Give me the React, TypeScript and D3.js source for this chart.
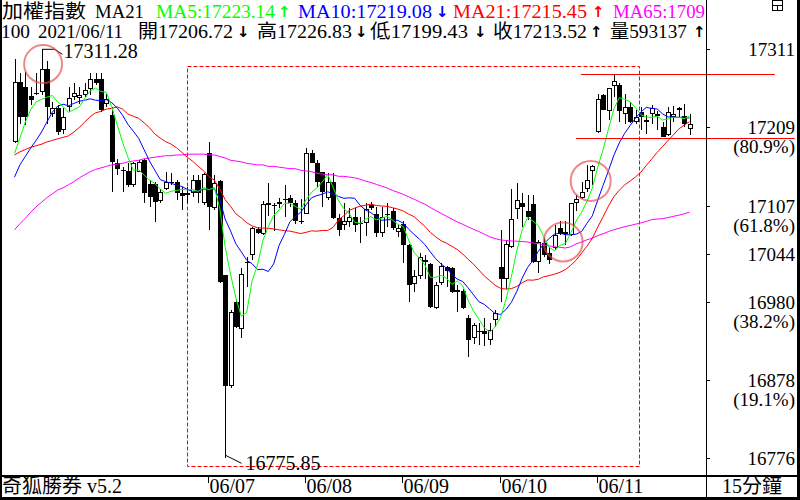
import * as d3 from "d3";
import React from "react";

// 15-minute bars, 06/03 .. 06/11 (18 bars per session)
const opens = [17190, 17269, 17262, 17250, 17254, 17256, 17285, 17227, 17234, 17205, 17236, 17249, 17248, 17251, 17259, 17272, 17272, 17240, 17225, 17163, 17153, 17152, 17133, 17151, 17167, 17135, 17135, 17113, 17128, 17138, 17138, 17123, 17123, 17123, 17140, 17110, 17176, 17103, 17139, 17016, 16870, 16981, 16945, 17033, 17042, 17076, 17069, 17110, 17107, 17109, 17115, 17116, 17110, 17086, 17096, 17175, 17163, 17150, 17116, 17138, 17091, 17081, 17085, 17092, 17084, 17084, 17107, 17096, 17071, 17096, 17099, 17072, 17083, 17055, 17004, 17014, 17036, 17030, 16972, 17005, 17026, 17025, 16993, 16995, 16960, 16933, 16942, 16942, 16931, 16957, 17026, 17011, 17052, 17102, 17110, 17100, 17109, 17033, 17058, 17045, 17051, 17077, 17072, 17068, 17110, 17117, 17129, 17152, 17203, 17251, 17231, 17263, 17264, 17227, 17236, 17216, 17229, 17219, 17227, 17226, 17210, 17199, 17223, 17232, 17224, 17206.72];
const highs = [17299, 17280, 17282, 17262, 17280, 17311.28, 17296, 17242, 17238, 17234, 17262, 17267, 17262, 17267, 17280, 17280, 17280, 17253, 17236, 17168, 17157, 17162, 17164, 17166, 17168, 17140, 17138, 17129, 17151, 17149, 17140, 17131, 17131, 17147, 17147, 17149, 17190, 17147, 17140, 17016, 16970, 16985, 17025, 17039, 17078, 17079, 17113, 17136, 17110, 17117, 17133, 17120, 17114, 17115, 17182, 17180, 17166, 17150, 17149, 17149, 17096, 17110, 17103, 17103, 17092, 17110, 17112, 17105, 17105, 17110, 17103, 17081, 17086, 17057, 17022, 17044, 17042, 17031, 17007, 17031, 17028, 17026, 17003, 16998, 16963, 16953, 16953, 16959, 16953, 16970, 17075, 17062, 17129, 17136, 17123, 17120, 17120, 17062, 17066, 17053, 17081, 17086, 17086, 17110, 17120, 17138, 17160, 17160, 17253, 17253, 17261, 17277, 17267, 17253, 17242, 17232, 17236, 17225, 17238, 17231, 17216, 17236, 17237, 17236, 17240, 17226.83];
const lows = [17188, 17214, 17212, 17238, 17251, 17251, 17214, 17223, 17199, 17201, 17229, 17245, 17240, 17249, 17251, 17264, 17229, 17236, 17125, 17147, 17125, 17131, 17131, 17150, 17110, 17105, 17085, 17110, 17127, 17133, 17114, 17101, 17110, 17118, 17110, 17107, 17075, 17101, 17005, 16775.85, 16868, 16946, 16933, 17000, 17036, 17070, 17068, 17093, 17074, 17104, 17092, 17105, 17083, 17083, 17096, 17162, 17131, 17105, 17114, 17089, 17067, 17075, 17079, 17072, 17058, 17067, 17101, 17065, 17066, 17079, 17075, 17066, 17031, 16981, 16993, 17011, 17011, 16972, 16971, 17003, 17000, 16992, 16968, 16971, 16909, 16926, 16924, 16923, 16924, 16948, 16980, 16997, 17051, 17089, 17079, 17088, 17032, 17018, 17040, 17030, 17048, 17068, 17055, 17067, 17100, 17115, 17125, 17134, 17202, 17232, 17219, 17249, 17216, 17214, 17215, 17214, 17206, 17200, 17214, 17205, 17196, 17198, 17216, 17221, 17210, 17199.43];
const closes = [17269, 17222, 17223, 17245, 17253, 17286, 17236, 17234, 17203, 17223, 17248, 17254, 17251, 17258, 17272, 17267, 17232, 17246, 17164, 17155, 17152, 17133, 17162, 17164, 17123, 17118, 17111, 17125, 17137, 17136, 17123, 17119, 17121, 17140, 17123, 17148, 17105, 17136, 17006, 16870, 16968, 16948, 17017, 17031, 17077, 17071, 17109, 17107, 17106, 17112, 17114, 17110, 17086, 17087, 17175, 17163, 17138, 17125, 17137, 17090, 17075, 17086, 17092, 17081, 17083, 17102, 17103, 17071, 17092, 17095, 17077, 17077, 17055, 17003, 17014, 17040, 17033, 16974, 17003, 17027, 17021, 16993, 16996, 16972, 16931, 16950, 16941, 16939, 16944, 16966, 17010, 17056, 17089, 17114, 17105, 17092, 17033, 17059, 17042, 17035, 17068, 17069, 17070, 17110, 17115, 17125, 17140, 17158, 17246, 17232, 17260, 17270, 17231, 17236, 17216, 17222, 17223, 17216, 17234, 17224, 17197, 17229, 17227, 17235, 17214, 17213.52];

// moving-average values before a full window exists
const ma5Lead = [17175, 17195, 17216, 17232];
const ma10Lead = [17144, 17160, 17171, 17182, 17192, 17203, 17216, 17229, 17237];
const ma21Lead = [17173, 17177, 17180, 17183, 17185, 17187, 17190, 17192, 17194, 17196, 17198, 17203, 17209, 17216, 17223, 17228, 17230, 17233, 17234, 17236];
const ma65Lead = [17075, 17083, 17090, 17098, 17105, 17111, 17117, 17122, 17127, 17130, 17134, 17138, 17143, 17147, 17151, 17154, 17156, 17158, 17160, 17161, 17162, 17164, 17165, 17166, 17168, 17169, 17170, 17171, 17172, 17172, 17173, 17173, 17174, 17174, 17174, 17174, 17173, 17173, 17171, 17169, 17166, 17165, 17164, 17162, 17161, 17160, 17160, 17158, 17158, 17157, 17156, 17155, 17155, 17153, 17152, 17151, 17149, 17148, 17147, 17147, 17145, 17145, 17144, 17143];

const dayLabels = ["06/07", "06/08", "06/09", "06/10", "06/11"];
const dayStarts = [36, 54, 72, 90, 108];

const fibLevels = [1, 0.809, 0.618, 0.5, 0.382, 0.191, 0];
const fibPercentShown = [0.809, 0.618, 0.382, 0.191];

// drawn annotations (candle index / price units)
const focusBox = { from: 32, to: 115.6, top: 17290, bottom: 16766 };
const hLines = [
  { value: 17279, from: 104.9, to: 140.8 },
  { value: 17195, from: 104, to: 144.5 },
];
const marks = [
  { at: 5.3, value: 17292, r: 19 },
  { at: 106.7, value: 17139, r: 20 },
  { at: 101.6, value: 17059, r: 19.5 },
];

const FONT = "'Liberation Serif','Noto Sans CJK TC',serif";
const ARROW_FONT = "'DejaVu Sans',sans-serif";

function movingAvg(period: number, lead: number[]) {
  return closes.map((_, i) =>
    i < period - 1 ? lead[i] : (d3.mean(closes.slice(i - period + 1, i + 1)) as number)
  );
}

type HeadItem = { t: string; x: number; w: number; c?: string; arrow?: boolean };

function HeadLine({ items, baseline }: { items: HeadItem[]; baseline: number }) {
  return (
    <>
      {items.map((h, k) =>
        h.arrow ? (
          <text
            key={k}
            x={h.x}
            y={baseline - 1}
            fill={h.c || "#000"}
            fontSize={15}
            fontFamily={ARROW_FONT}
            fontWeight={700}
          >
            {h.t}
          </text>
        ) : (
          <text
            key={k}
            x={h.x}
            y={baseline}
            fill={h.c || "#000"}
            fontSize={19}
            textLength={h.w}
            lengthAdjust="spacingAndGlyphs"
          >
            {h.t}
          </text>
        )
      )}
    </>
  );
}

export default function App() {
  const W = 800;
  const H = 500;
  const axisX = 706;
  const footY = 476;

  const hi = d3.max(highs) as number;
  const lo = d3.min(lows) as number;
  const hiIdx = d3.maxIndex(highs);
  const loIdx = d3.minIndex(lows);

  const x = d3.scaleLinear().domain([0, closes.length - 1]).range([14.5, 689.5]);
  const y = d3.scaleLinear().domain([lo, hi]).range([458.3, 49.3]);
  const px = (v: number) => Math.round(v) + 0.5;

  const line = d3
    .line<number>()
    .x((d, i) => x(i))
    .y((d) => y(d));

  const mas = [
    { data: movingAvg(65, ma65Lead), color: "#ff00ff" },
    { data: movingAvg(21, ma21Lead), color: "#ff0000" },
    { data: movingAvg(10, ma10Lead), color: "#0000ff" },
    { data: movingAvg(5, ma5Lead), color: "#00ff00" },
  ];

  const head1: HeadItem[] = [
    { t: "加權指數", x: 2, w: 84 },
    { t: "MA21", x: 95, w: 49 },
    { t: "MA5:17223.14", x: 156, w: 119, c: "#00ff00" },
    { t: "↑", x: 278, w: 10, c: "#00ff00", arrow: true },
    { t: "MA10:17219.08", x: 298, w: 134, c: "#0000ff" },
    { t: "↓", x: 436, w: 10, c: "#0000ff", arrow: true },
    { t: "MA21:17215.45", x: 453, w: 134, c: "#ff0000" },
    { t: "↑", x: 592, w: 10, c: "#ff0000", arrow: true },
    { t: "MA65:1709", x: 613, w: 92, c: "#ff00ff" },
  ];
  const head2: HeadItem[] = [
    { t: "100", x: 1, w: 29 },
    { t: "2021/06/11", x: 38, w: 85 },
    { t: "開17206.72", x: 138, w: 95 },
    { t: "↓", x: 237, w: 10, arrow: true },
    { t: "高17226.83", x: 257, w: 95 },
    { t: "↓", x: 355, w: 10, arrow: true },
    { t: "低17199.43", x: 370, w: 98 },
    { t: "↓", x: 474, w: 10, arrow: true },
    { t: "收17213.52", x: 493, w: 94 },
    { t: "↑", x: 590, w: 10, arrow: true },
    { t: "量593137", x: 610, w: 77 },
    { t: "↑", x: 693, w: 10, arrow: true },
  ];

  const hx = px(x(hiIdx));
  const hy = y(hi);
  const lx = px(x(loIdx));
  const ly = y(lo);

  const bx0 = px(x(focusBox.from));
  const bx1 = px(x(focusBox.to));
  const by0 = px(y(focusBox.top));
  const by1 = px(y(focusBox.bottom));

  return (
    <svg width={W} height={H} style={{ display: "block", background: "#fff" }} fontFamily={FONT}>
      <style>{`body{margin:0}`}</style>
      <defs>
        <clipPath id="plotClip">
          <rect x={0} y={0} width={axisX} height={footY} />
        </clipPath>
      </defs>
      <rect width={W} height={H} fill="#fff" />

      {/* dashed focus box */}
      <path
        d={`M${bx0},${by0}H${bx1}V${by1}H${bx0}Z`}
        fill="none"
        stroke="#ff0000"
        strokeWidth={1}
        strokeDasharray="4,2"
      />

      {/* candles */}
      <g clipPath="url(#plotClip)" shapeRendering="crispEdges">
        {closes.map((c, i) => {
          const o = opens[i];
          const cx = Math.round(x(i));
          const top = y(Math.max(o, c));
          const bot = y(Math.min(o, c));
          const up = c >= o;
          const bh = bot - top;
          return (
            <g key={i}>
              <line x1={cx + 0.5} x2={cx + 0.5} y1={y(highs[i])} y2={y(lows[i])} stroke="#000" />
              {bh < 1.5 ? (
                <line x1={cx - 2} x2={cx + 3} y1={top + 0.5} y2={top + 0.5} stroke="#000" />
              ) : up ? (
                <rect x={cx - 1.5} y={top + 0.5} width={4} height={bh - 1} fill="#fff" stroke="#000" />
              ) : (
                <rect x={cx - 2} y={top} width={5} height={bh} fill="#000" />
              )}
            </g>
          );
        })}
      </g>

      {/* moving averages */}
      <g clipPath="url(#plotClip)">
        {mas.map((m, k) => (
          <path key={k} d={line(m.data) || ""} fill="none" stroke={m.color} strokeWidth={1} />
        ))}
      </g>

      {/* high / low labels */}
      <polyline points={`${hx},${hy} ${hx + 12},${hy} ${hx + 20},${hy + 5}`} fill="none" stroke="#000" />
      <text x={hx + 21} y={hy + 9} fontSize={20}>
        {hi.toFixed(2)}
      </text>
      <polyline points={`${lx},${ly - 3} ${lx + 16},${ly + 5}`} fill="none" stroke="#000" />
      <text x={lx + 20} y={ly + 12} fontSize={20}>
        {lo.toFixed(2)}
      </text>

      {/* red guide lines */}
      {hLines.map((l, k) => (
        <line
          key={k}
          x1={x(l.from)}
          x2={x(l.to)}
          y1={px(y(l.value))}
          y2={px(y(l.value))}
          stroke="#ff0000"
          strokeWidth={1.2}
        />
      ))}

      {/* circles */}
      {marks.map((m, k) => (
        <circle key={k} cx={x(m.at)} cy={y(m.value)} r={m.r} fill="none" stroke="rgba(232,70,70,0.65)" strokeWidth={2} />
      ))}

      {/* header */}
      <g clipPath="url(#plotClip)">
        <HeadLine items={head1} baseline={18} />
        <HeadLine items={head2} baseline={38} />
      </g>

      {/* right axis */}
      <g fontSize={19} textAnchor="end">
        {fibLevels.map((f, k) => {
          const v = lo + f * (hi - lo);
          const ty = px(y(v));
          return (
            <g key={k}>
              <line x1={axisX} x2={axisX + 4} y1={ty} y2={ty} stroke="#000" />
              <text x={795} y={ty + 6}>
                {Math.round(v)}
              </text>
              {fibPercentShown.includes(f) && (
                <text x={795} y={ty + 25}>
                  {`(${(f * 100).toFixed(1)}%)`}
                </text>
              )}
            </g>
          );
        })}
      </g>

      {/* bottom axis */}
      <g fontSize={20}>
        {dayStarts.map((d, k) => {
          const tx = Math.round(x(d)) - 0.5;
          return (
            <g key={k}>
              <line x1={tx} x2={tx} y1={footY} y2={footY + 7} stroke="#000" />
              <text x={tx + 1} y={493}>
                {dayLabels[k]}
              </text>
            </g>
          );
        })}
        <text x={2} y={493}>
          奇狐勝券 v5.2
        </text>
        <text x={752} y={493} textAnchor="middle">
          15分鐘
        </text>
      </g>

      {/* frame */}
      <g shapeRendering="crispEdges" stroke="#000" fill="none">
        <line x1={axisX + 0.5} x2={axisX + 0.5} y1={0} y2={H} />
        <line x1={0} x2={W} y1={footY} y2={footY} strokeWidth={2} />
        <line x1={1} x2={1} y1={0} y2={H} strokeWidth={2} />
        <rect x={0} y={497} width={W} height={3} fill="#000" stroke="none" />
        <rect x={797} y={0} width={3} height={H} fill="#000" stroke="none" />
        <rect x={772.5} y={0.5} width={10} height={10} />
        <line x1={772} x2={783} y1={5.5} y2={5.5} />
        <line x1={777.5} x2={777.5} y1={5.5} y2={10.5} />
      </g>
    </svg>
  );
}
